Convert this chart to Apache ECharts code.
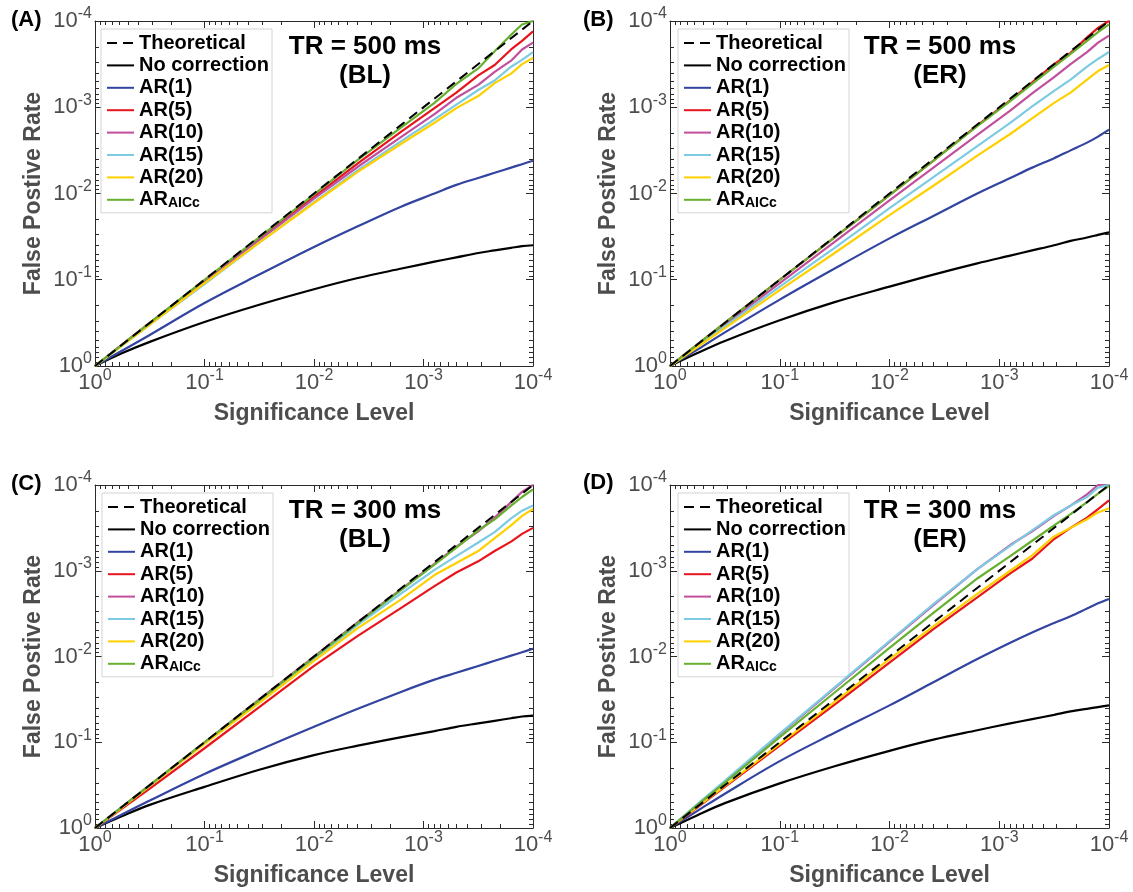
<!DOCTYPE html>
<html>
<head>
<meta charset="utf-8">
<script src="https://cdn.jsdelivr.net/npm/echarts@6/dist/echarts.min.js"></script>
<style>
  html, body { margin: 0; padding: 0; background: #fff; }
  #chart { width: 1133px; height: 892px; }
</style>
</head>
<body>
<div id="chart"></div>
<script>
// x positions: significance level as -log10(alpha)
const sigExp = [0, 0.25, 0.5, 1, 1.5, 2, 2.4, 2.8, 3.1, 3.3, 3.5, 3.65, 3.8, 3.9, 4.0];
// theoretical line endpoints (-log10)
const theoreticalExp = [0, 4];

// every curve: -log10(false positive rate) read at sigExp
// (A) TR = 500 ms, BL
const aNoCorr = [0, 0.15, 0.28, 0.51, 0.71, 0.89, 1.02, 1.13, 1.21, 1.26, 1.31, 1.34, 1.37, 1.39, 1.40];
const aAR1    = [0, 0.18, 0.36, 0.73, 1.06, 1.38, 1.62, 1.85, 2.00, 2.10, 2.18, 2.24, 2.30, 2.34, 2.38];
const aAR5    = [0, 0.25, 0.50, 0.99, 1.48, 1.96, 2.35, 2.72, 2.99, 3.17, 3.37, 3.49, 3.67, 3.77, 3.88];
const aAR10   = [0, 0.25, 0.49, 0.98, 1.46, 1.94, 2.31, 2.66, 2.92, 3.11, 3.26, 3.41, 3.54, 3.67, 3.75];
const aAR15   = [0, 0.24, 0.48, 0.95, 1.43, 1.90, 2.27, 2.61, 2.86, 3.03, 3.20, 3.31, 3.47, 3.55, 3.64];
const aAR20   = [0, 0.24, 0.48, 0.96, 1.43, 1.89, 2.25, 2.58, 2.82, 2.99, 3.13, 3.28, 3.39, 3.50, 3.57];
const aAICc   = [0, 0.25, 0.50, 1.00, 1.49, 1.99, 2.39, 2.77, 3.05, 3.27, 3.45, 3.65, 3.84, 3.96, 4.00];

// (B) TR = 500 ms, ER
const bNoCorr = [0, 0.15, 0.29, 0.53, 0.74, 0.92, 1.06, 1.19, 1.28, 1.34, 1.40, 1.45, 1.49, 1.52, 1.55];
const bAR1    = [0, 0.19, 0.39, 0.77, 1.13, 1.48, 1.74, 2.00, 2.18, 2.30, 2.41, 2.50, 2.59, 2.66, 2.74];
const bAR5    = [0, 0.25, 0.50, 1.00, 1.49, 1.98, 2.38, 2.79, 3.08, 3.29, 3.50, 3.63, 3.81, 3.92, 4.00];
const bAR10   = [0, 0.24, 0.48, 0.96, 1.44, 1.92, 2.30, 2.68, 2.96, 3.16, 3.35, 3.50, 3.64, 3.75, 3.83];
const bAR15   = [0, 0.23, 0.46, 0.92, 1.37, 1.83, 2.19, 2.55, 2.82, 3.01, 3.19, 3.32, 3.47, 3.56, 3.64];
const bAR20   = [0, 0.22, 0.44, 0.88, 1.31, 1.75, 2.09, 2.44, 2.69, 2.87, 3.05, 3.17, 3.32, 3.42, 3.49];
const bAICc   = [0, 0.25, 0.50, 1.00, 1.49, 1.98, 2.38, 2.78, 3.07, 3.27, 3.47, 3.62, 3.77, 3.87, 3.96];

// (C) TR = 300 ms, BL
const cNoCorr = [0, 0.14, 0.27, 0.48, 0.68, 0.85, 0.96, 1.06, 1.13, 1.18, 1.22, 1.25, 1.28, 1.30, 1.31];
const cAR1    = [0, 0.16, 0.32, 0.63, 0.91, 1.18, 1.39, 1.59, 1.73, 1.81, 1.89, 1.95, 2.01, 2.05, 2.09];
const cAR5    = [0, 0.23, 0.46, 0.93, 1.41, 1.89, 2.24, 2.57, 2.82, 2.98, 3.11, 3.23, 3.34, 3.43, 3.50];
const cAR10   = [0, 0.25, 0.50, 1.00, 1.50, 2.00, 2.40, 2.79, 3.08, 3.28, 3.46, 3.62, 3.80, 3.92, 4.00];
const cAR15   = [0, 0.25, 0.49, 0.99, 1.48, 1.97, 2.37, 2.74, 3.01, 3.17, 3.33, 3.45, 3.61, 3.70, 3.76];
const cAR20   = [0, 0.24, 0.49, 0.98, 1.46, 1.95, 2.33, 2.67, 2.95, 3.09, 3.23, 3.38, 3.53, 3.64, 3.72];
const cAICc   = [0, 0.25, 0.50, 1.00, 1.49, 1.99, 2.39, 2.78, 3.07, 3.27, 3.47, 3.60, 3.76, 3.86, 3.95];

// (D) TR = 300 ms, ER
const dNoCorr = [0, 0.15, 0.29, 0.52, 0.72, 0.90, 1.03, 1.14, 1.22, 1.27, 1.32, 1.36, 1.39, 1.41, 1.43];
const dAR1    = [0, 0.20, 0.40, 0.78, 1.11, 1.43, 1.70, 1.97, 2.16, 2.28, 2.39, 2.47, 2.56, 2.62, 2.67];
const dAR5    = [0, 0.24, 0.48, 0.96, 1.44, 1.93, 2.32, 2.69, 2.97, 3.14, 3.37, 3.50, 3.62, 3.72, 3.82];
const dAR10   = [0, 0.27, 0.54, 1.09, 1.63, 2.17, 2.60, 3.02, 3.30, 3.46, 3.64, 3.76, 3.89, 4.00, 4.00];
const dAR15   = [0, 0.28, 0.55, 1.10, 1.64, 2.18, 2.61, 3.02, 3.29, 3.47, 3.65, 3.76, 3.86, 3.97, 4.00];
const dAR20   = [0, 0.25, 0.49, 0.98, 1.47, 1.97, 2.35, 2.73, 3.00, 3.18, 3.40, 3.50, 3.60, 3.68, 3.73];
const dAICc   = [0, 0.27, 0.53, 1.06, 1.58, 2.10, 2.51, 2.91, 3.17, 3.35, 3.53, 3.66, 3.80, 3.90, 3.99];

const majorTicks = [1e-4, 1e-3, 1e-2, 1e-1, 1];
const minorTicks = [];
for (let k = -4; k < 0; k++) {
  for (let m = 2; m <= 9; m++) minorTicks.push(m * Math.pow(10, k));
}

const curveNames = ['No correction', 'AR(1)', 'AR(5)', 'AR(10)', 'AR(15)', 'AR(20)', 'AR_AICc'];
const curveColors = ['#000000', '#3343a0', '#e8141c', '#c24f9e', '#7ccbe3', '#ffd000', '#66b02e'];
const smoothCurves = [true, true, false, false, false, false, false];

const panels = [
  { tag: '(A)', tr: 'TR = 500 ms', design: '(BL)', curves: [aNoCorr, aAR1, aAR5, aAR10, aAR15, aAR20, aAICc],
    grid: { left: 95, top: 21, width: 438, height: 345 }, legendPos: [101, 29], tagPos: [11, 20] },
  { tag: '(B)', tr: 'TR = 500 ms', design: '(ER)', curves: [bNoCorr, bAR1, bAR5, bAR10, bAR15, bAR20, bAICc],
    grid: { left: 670, top: 21, width: 439, height: 345 }, legendPos: [678, 29], tagPos: [583, 20] },
  { tag: '(C)', tr: 'TR = 300 ms', design: '(BL)', curves: [cNoCorr, cAR1, cAR5, cAR10, cAR15, cAR20, cAICc],
    grid: { left: 95, top: 485, width: 438, height: 343 }, legendPos: [102, 493], tagPos: [11, 484] },
  { tag: '(D)', tr: 'TR = 300 ms', design: '(ER)', curves: [dNoCorr, dAR1, dAR5, dAR10, dAR15, dAR20, dAICc],
    grid: { left: 670, top: 485, width: 439, height: 343 }, legendPos: [678, 493], tagPos: [583, 483] }
];

const FONT = "'Liberation Sans', Arial, Helvetica, sans-serif";
const AXIS_COLOR = '#2b2b2b';
const LABEL_COLOR = '#4d4d4d';

const toPoints = (xs, ys) => xs.map((u, k) => [Math.pow(10, -u), Math.pow(10, -ys[k])]);

function powerLabel(value) {
  const e = Math.round(Math.log10(value));
  return '{b|10}{e|' + e + '}';
}

const labelRich = {
  b: { fontSize: 22, lineHeight: 30, color: LABEL_COLOR, fontFamily: FONT },
  e: { fontSize: 16, lineHeight: 15, verticalAlign: 'top', color: LABEL_COLOR, fontFamily: FONT }
};

function makeAxes(i, dim) {
  const isX = dim === 'x';
  const sides = isX ? ['bottom', 'top'] : ['left', 'right'];
  const list = [];
  sides.forEach((side, s) => {
    [majorTicks, minorTicks].forEach((ticks, t) => {
      const main = s === 0 && t === 0;
      list.push({
        gridIndex: i,
        type: 'log',
        logBase: 10,
        min: 1e-4,
        max: 1,
        inverse: true,
        position: side,
        offset: 0,
        axisLine: { show: t === 0, onZero: false, lineStyle: { color: AXIS_COLOR, width: 1 } },
        axisTick: {
          show: true, inside: true, length: t === 0 ? 7 : 4, customValues: ticks,
          lineStyle: { color: AXIS_COLOR, width: 1 }
        },
        axisLabel: main ? {
          show: true, customValues: majorTicks, formatter: powerLabel, rich: labelRich,
          margin: isX ? 2 : 3
        } : { show: false },
        splitLine: { show: false },
        minorTick: { show: false },
        name: main ? (isX ? 'Significance Level' : 'False Postive Rate') : '',
        nameLocation: 'middle',
        nameGap: isX ? 36 : 50,
        nameTextStyle: { fontSize: 23, fontWeight: 'bold', color: LABEL_COLOR, fontFamily: FONT }
      });
    });
  });
  return list;
}

const legendData = [
  { name: 'Theoretical', lineStyle: { type: [10, 6], width: 2, color: '#000' } }
].concat(curveNames.map(n => ({ name: n })));

const grids = [], xAxes = [], yAxes = [], series = [], legends = [], graphics = [];

panels.forEach((p, i) => {
  grids.push(Object.assign({ containLabel: false }, p.grid));
  xAxes.push(...makeAxes(i, 'x'));
  yAxes.push(...makeAxes(i, 'y'));
  const xi = i * 4, yi = i * 4;

  p.curves.forEach((curve, c) => {
    series.push({
      name: curveNames[c],
      type: 'line',
      xAxisIndex: xi,
      yAxisIndex: yi,
      data: toPoints(sigExp, curve),
      symbol: 'none',
      smooth: smoothCurves[c] ? 0.35 : false,
      lineStyle: { color: curveColors[c], width: 2.2 },
      itemStyle: { color: curveColors[c] },
      z: 2 + c
    });
  });
  series.push({
    name: 'Theoretical',
    type: 'line',
    xAxisIndex: xi,
    yAxisIndex: yi,
    data: toPoints(theoreticalExp, theoreticalExp),
    symbol: 'none',
    lineStyle: { color: '#000', width: 2, type: [10, 6] },
    itemStyle: { color: '#000' },
    z: 10
  });

  legends.push({
    left: p.legendPos[0],
    top: p.legendPos[1],
    orient: 'vertical',
    data: legendData,
    selectedMode: false,
    itemWidth: 27,
    itemHeight: 14,
    itemGap: 2.4,
    padding: [4, 3, 3, 5],
    backgroundColor: '#fff',
    borderColor: '#d4d4d4',
    borderWidth: 1,
    itemStyle: { opacity: 0 },
    formatter: n => (n === 'AR_AICc' ? '{m|AR}{s|AICc}' : n),
    textStyle: {
      fontSize: 20, fontWeight: 'bold', color: '#000', lineHeight: 20, fontFamily: FONT,
      rich: {
        m: { fontSize: 20, fontWeight: 'bold', color: '#000', lineHeight: 20, fontFamily: FONT },
        s: { fontSize: 14, fontWeight: 'bold', color: '#000', lineHeight: 14, verticalAlign: 'bottom', fontFamily: FONT }
      }
    }
  });

  const cx = p.grid.left + 270;
  graphics.push(
    { type: 'text', x: cx, y: p.grid.top + 26, z: 100,
      style: { text: p.tr, font: "bold 26px " + FONT, fill: '#000', textAlign: 'center', textVerticalAlign: 'middle' } },
    { type: 'text', x: cx, y: p.grid.top + 55, z: 100,
      style: { text: p.design, font: "bold 26px " + FONT, fill: '#000', textAlign: 'center', textVerticalAlign: 'middle' } },
    { type: 'text', x: p.tagPos[0], y: p.tagPos[1], z: 100,
      style: { text: p.tag, font: "bold 22px " + FONT, fill: '#000', textAlign: 'left', textVerticalAlign: 'middle' } }
  );
});

const chart = echarts.init(document.getElementById('chart'), null, { renderer: 'canvas' });
chart.setOption({
  animation: false,
  backgroundColor: '#fff',
  grid: grids,
  xAxis: xAxes,
  yAxis: yAxes,
  legend: legends,
  series: series,
  graphic: graphics
});
</script>
</body>
</html>
